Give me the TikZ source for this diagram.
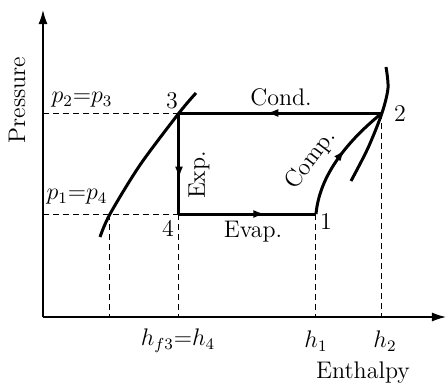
\documentclass[tikz,border=0pt]{standalone}
\usetikzlibrary{arrows.meta,decorations.markings}
\begin{document}
\begin{tikzpicture}[x=0.5pt,y=-0.5pt,
  every node/.style={font=\fontsize{12}{14}\selectfont, inner sep=0pt},
  axis/.style={line width=0.7pt},
  dashline/.style={line width=0.5pt, dash pattern=on 3pt off 2pt},
  cycleline/.style={line width=1.5pt},
  curveline/.style={line width=1.5pt},
  midarrow/.style={postaction={decorate}, decoration={markings,
     mark=at position #1 with {\arrow{Latex[length=6pt,width=4pt]}}}}]
\useasboundingbox (0,0) rectangle (446,387);
% points
\coordinate (p1) at (316,214);
\coordinate (p2) at (382,113);
\coordinate (p3) at (179,113);
\coordinate (p4) at (179,214);
\coordinate (o) at (43,317);
\coordinate (ytop) at (43,10);
\coordinate (xend) at (446,317);
\coordinate (yp23) at (43,113);
\coordinate (yp14) at (43,214);
\coordinate (sl) at (110,214);
\coordinate (slb) at (110,317);
\coordinate (h4b) at (179,317);
\coordinate (h1b) at (316,317);
\coordinate (h2b) at (382,317);
% axes
\draw[axis,-{Latex[length=7pt,width=4.5pt]}] (o) -- (ytop);
\draw[axis,-{Latex[length=7pt,width=4.5pt]}] (o) -- (xend);
% dashed
\draw[dashline] (yp23) -- (p3);
\draw[dashline] (yp14) -- (p4);
\draw[dashline] (sl) -- (slb);
\draw[dashline] (p4) -- (h4b);
\draw[dashline] (p1) -- (h1b);
\draw[dashline] (p2) -- (h2b);
% saturation curves
\draw[curveline] plot[smooth] coordinates {(100,237) (110,214) (140,165) (179,113) (196,93)};
\draw[curveline] plot[smooth] coordinates {(386,67) (388,88) (382,113) (368,148) (351,181)};
% cycle
\draw[cycleline,midarrow=0.63] (p4) -- (p1);
\draw[cycleline,midarrow=0.57] (p2) -- (p3);
\draw[cycleline,midarrow=0.65] (p3) -- (p4);
\draw[cycleline,midarrow=0.58] (p1) .. controls (320,170) and (355,135) .. (p2);
% labels
\node[rotate=90] (lp) at (17,100) {Pressure};
\node (le) at (363,373) {Enthalpy};
\node (l23) at (82,100) {$p_2{=}p_3$};
\node (l14) at (77,197) {$p_1{=}p_4$};
\node (lh34) at (178,341) {$h_{f3}{=}h_4$};
\node (lh1) at (316,341) {$h_1$};
\node (lh2) at (385,341) {$h_2$};
\node (n1) at (326,222) {1};
\node (n2) at (400,114) {2};
\node (n3) at (172,101) {3};
\node (n4) at (168,228) {4};
\node (lc) at (281,97) {Cond.};
\node (lev) at (253,232) {Evap.};
\node[rotate=90] (lex) at (199,175) {Exp.};
\node[rotate=53] (lco) at (311,160) {Comp.};
\end{tikzpicture}
\end{document}
